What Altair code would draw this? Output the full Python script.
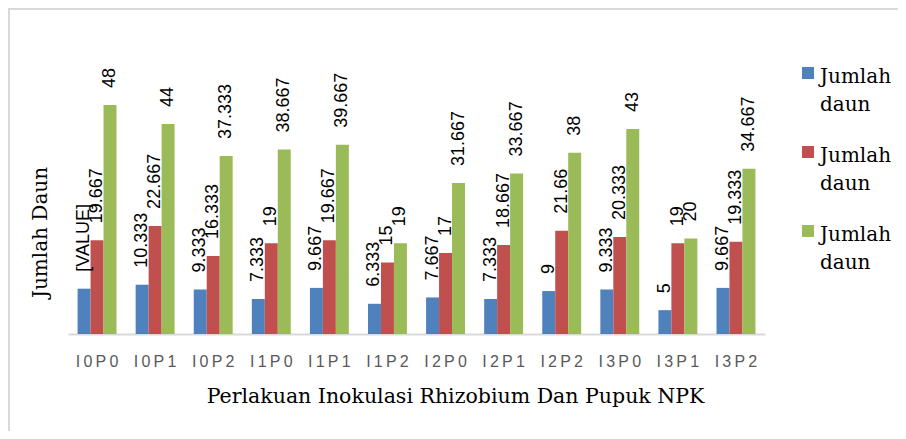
import altair as alt
import pandas as pd

categories = ["I0P0", "I0P1", "I0P2", "I1P0", "I1P1", "I1P2",
              "I2P0", "I2P1", "I2P2", "I3P0", "I3P1", "I3P2"]
series = ["A", "B", "C"]
blue = [9.5, 10.333, 9.333, 7.333, 9.667, 6.333, 7.667, 7.333, 9, 9.333, 5, 9.667]
red = [19.667, 22.667, 16.333, 19, 19.667, 15, 17, 18.667, 21.66, 20.333, 19, 19.333]
green = [48, 44, 37.333, 38.667, 39.667, 19, 31.667, 33.667, 38, 43, 20, 34.667]
blue_lbl = ["[VALUE]", "10.333", "9.333", "7.333", "9.667", "6.333", "7.667", "7.333", "9", "9.333", "5", "9.667"]
red_lbl = ["19.667", "22.667", "16.333", "19", "19.667", "15", "17", "18.667", "21.66", "20.333", "19", "19.333"]
green_lbl = ["48", "44", "37.333", "38.667", "39.667", "19", "31.667", "33.667", "38", "43", "20", "34.667"]
colors = ["#4F81BD", "#C0504D", "#9BBB59"]

rows = []
for s, vals, lbls in zip(series, [blue, red, green], [blue_lbl, red_lbl, green_lbl]):
    for c, v, l in zip(categories, vals, lbls):
        rows.append({"cat": c, "series": s, "value": v, "label": l})
df = pd.DataFrame(rows)

W, H = 697, 238.5
PL, PT, PR, PB = 60, 87.5, 133, 97
LBL_DY = -6

base = alt.Chart(df).encode(
    x=alt.X("cat:N", sort=categories,
            scale=alt.Scale(paddingInner=0.33, paddingOuter=0.165),
            axis=alt.Axis(title="Perlakuan Inokulasi Rhizobium Dan Pupuk NPK",
                          labelAngle=0, labelFont="Liberation Sans", labelFontSize=16,
                          labelColor="#595959", labelPadding=19 - LBL_DY, ticks=False,
                          domainColor="#D9D9D9", domainWidth=2,
                          labelExpr="join(split(datum.label, ''), '\u2009')",
                          titleFont="DejaVu Serif", titleFontSize=20.5, titleFontWeight="normal",
                          titleColor="#000000", titleX=387, titleY=62,
                          titleBaseline="middle", titleAlign="center")),
    xOffset=alt.XOffset("series:N", sort=series),
    y=alt.Y("value:Q", scale=alt.Scale(domain=[0, 50], nice=False),
            axis=alt.Axis(title="Jumlah Daun", labels=False, ticks=False, domain=False,
                          grid=False, titleFont="DejaVu Serif", titleFontSize=20,
                          titleFontWeight="normal", titleColor="#000000",
                          titleX=-28, titleY=136.5, titleAngle=270,
                          titleBaseline="middle", titleAlign="center")),
)

bars = base.mark_bar().encode(
    color=alt.Color("series:N", sort=series,
                    scale=alt.Scale(domain=series, range=colors),
                    legend=alt.Legend(title=None, orient="none", legendX=730, legendY=-32.5,
                                      symbolType="square", symbolSize=144, symbolStrokeWidth=0,
                                      labelExpr="['Jumlah', 'daun']",
                                      labelFont="DejaVu Serif", labelFontSize=20,
                                      labelColor="#000000", labelBaseline="top",
                                      labelOffset=2, rowPadding=27, labelLimit=200))
)

labels = base.mark_text(angle=270, align="left", baseline="middle", dx=17,
                        font="Liberation Sans", fontSize=18, color="#000000").encode(
    text="label:N"
)

frame_src = pd.DataFrame({"f": [0]})
frame_top = alt.Chart(frame_src).mark_rule(color="#D9D9D9", strokeWidth=2).encode(
    x=alt.value(-60), x2=alt.value(W + PR + 10), y=alt.value(-86.5)
)
frame_left = alt.Chart(frame_src).mark_rule(color="#D9D9D9", strokeWidth=2).encode(
    x=alt.value(-59), y=alt.value(-87.5), y2=alt.value(H + PB + 10)
)

chart = alt.layer(frame_top, frame_left, bars, labels).properties(
    width=W, height=H,
    autosize=alt.AutoSizeParams(type="none"),
    padding={"left": PL, "top": PT, "right": PR, "bottom": PB},
).configure(
    style={"guide-label": {"lineHeight": 28, "dy": LBL_DY}}
).configure_view(stroke="transparent")

chart.save("out.html", embed_options={"renderer": "svg", "actions": False})
